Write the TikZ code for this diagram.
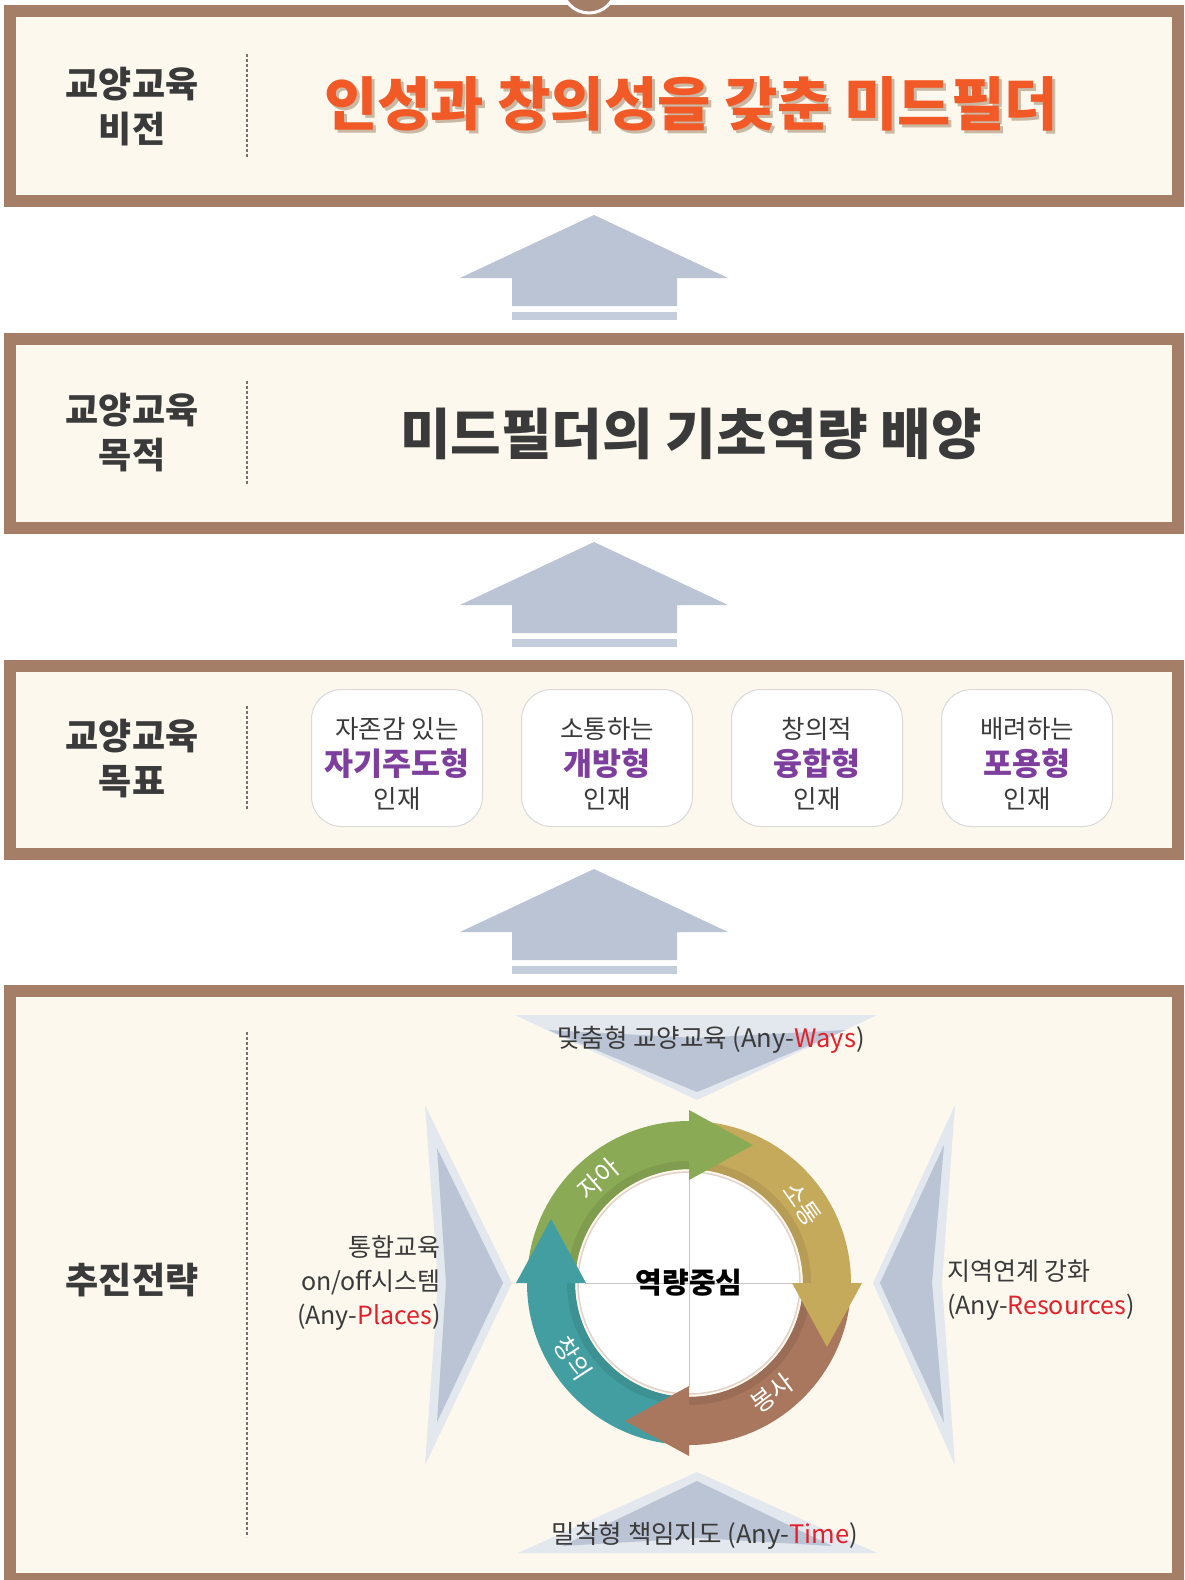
\documentclass[tikz,border=0pt]{standalone}
\usepackage{fontspec}
\setmainfont{Noto Sans CJK KR}
\usetikzlibrary{calc}

\definecolor{frame}{HTML}{A57E68}
\definecolor{paper}{HTML}{FCF8EE}
\definecolor{liftgray}{HTML}{BAC4D4}
\definecolor{haze}{HTML}{E3E7EE}
\definecolor{ink}{HTML}{3A3A3A}
\definecolor{vision}{HTML}{F15A26}
\definecolor{visshade}{HTML}{C9B8A4}
\definecolor{violet}{HTML}{7D3E9E}
\definecolor{anyred}{HTML}{E3202A}
\definecolor{cgreen}{HTML}{8BAA55}
\definecolor{cgold}{HTML}{C6AA5B}
\definecolor{cbrown}{HTML}{A9775D}
\definecolor{cteal}{HTML}{429EA0}
\definecolor{rim}{HTML}{E3D2C8}

\newcommand{\fs}[2]{\fontsize{#1}{#2}\selectfont} % size, skip

\begin{document}
\begin{tikzpicture}[x=1pt,y=-1pt,
 panel/.style={draw=frame,line width=12pt,fill=paper},
 sidelabel/.style={text=ink,font=\fs{36}{45}\bfseries,align=center,inner sep=0pt},
 divider/.style={draw=black!55,line width=2.5pt,dash pattern=on 3pt off 2pt},
 card/.style={draw=black!15,line width=1pt,fill=white,rounded corners=30pt,
   minimum width=171pt,minimum height=137pt},
 plain/.style={text=ink,inner sep=0pt},
 seg/.style={text=white,font=\fs{25}{30},inner sep=0pt},
 wedge/.style={fill=liftgray}
]

\useasboundingbox (0,0) rectangle (1184,1580);
\fill[white] (0,0) rectangle (1184,1580);

% frames
\path[panel] (10,11) rectangle (1178,201);
\path[panel] (10,339) rectangle (1178,528);
\path[panel] (10,666) rectangle (1178,854);
\path[panel] (10,991) rectangle (1178,1579);
\filldraw[fill=frame,draw=white,line width=3pt] (589,-14) circle (27);

% up arrows between frames
\foreach \dy in {0,327,654}{
 \begin{scope}[shift={(0,\dy)}]
  \fill[liftgray] (460,278) -- (594,215) -- (728,278) -- (677,278)
    -- (677,306) -- (512,306) -- (512,278) -- cycle;
  \fill[liftgray!85] (512,312) rectangle (677,320);
 \end{scope}
}

% left column
\node[sidelabel] (vislbl) at (132,107) {교양교육\\비전};
\node[sidelabel] (aimlbl) at (132,433) {교양교육\\목적};
\node[sidelabel] (goallbl) at (132,759) {교양교육\\목표};
\node[sidelabel] (planlbl) at (132,1280) {추진전략};
\draw[divider] (247,54) -- (247,158);
\draw[divider] (247,381) -- (247,485);
\draw[divider] (247,706) -- (247,810);
\draw[divider] (247,1032) -- (247,1537);

% vision and aim
\node[plain,text=visshade,font=\fs{58}{64}\bfseries] (visshadow) at (694,107)
  {인성과 창의성을 갖춘 미드필더};
\node[plain,text=vision,font=\fs{58}{64}\bfseries] (vistitle) at (691,104)
  {인성과 창의성을 갖춘 미드필더};
\node[plain,font=\fs{55}{60}\bfseries] (aimtitle) at (691,434)
  {미드필더의 기초역량 배양};

% talent cards
\newcommand{\talent}[4]{% name, x, top line, purple line
 \node[card] (#1) at (#2,758) {};
 \node[plain,font=\fs{25.5}{30}] (#1a) at ($(#1)+(0,-29)$) {#3};
 \node[plain,text=violet,font=\fs{31.5}{36}\bfseries] (#1b) at ($(#1)+(0,6)$) {#4};
 \node[plain,font=\fs{25.5}{30}] (#1c) at ($(#1)+(0,41)$) {인재};
}
\talent{self}{397}{자존감 있는}{자기주도형}
\talent{open}{607}{소통하는}{개방형}
\talent{fuse}{817}{창의적}{융합형}
\talent{care}{1027}{배려하는}{포용형}

% strategy wedges
\fill[haze] (515,1015) -- (877,1015) -- (697,1100) -- cycle;
\fill[wedge] (548,1030) -- (697,1092) -- (846,1030) -- (697,1038) -- cycle;
\fill[haze] (518,1553) -- (877,1553) -- (697,1472) -- cycle;
\fill[wedge] (562,1546) -- (697,1481) -- (832,1546) -- (697,1538) -- cycle;
\fill[haze] (425,1105) -- (512,1283) -- (425,1465) -- (438,1283) -- cycle;
\fill[wedge] (437,1148) -- (503,1283) -- (437,1422) -- (446,1283) -- cycle;
\fill[haze] (955,1105) -- (873,1283) -- (955,1465) -- (942,1283) -- cycle;
\fill[wedge] (944,1145) -- (880,1283) -- (944,1423) -- (932,1283) -- cycle;

\node[plain,font=\fs{25.5}{30}] (ways) at (711,1040)
  {맞춤형 교양교육 (Any-\textcolor{anyred}{Ways})};
\node[plain,font=\fs{25}{34},align=right,anchor=east] (places) at (441,1283)
  {통합교육\\on/off시스템\\(Any-\textcolor{anyred}{Places})};
\node[plain,font=\fs{25}{34},align=left,anchor=west] (resources) at (947,1290)
  {지역연계 강화\\(Any-\textcolor{anyred}{Resources})};
\node[plain,font=\fs{25.5}{30}] (time) at (705,1536)
  {밀착형 책임지도 (Any-\textcolor{anyred}{Time})};

% cycle
\begin{scope}[shift={(689,1283)},y=1pt]
 \def\ri{114} \def\rb{122} \def\ro{162}
 \def\rm{138} \def\rin{103} \def\rout{173} \def\hl{64}
 \foreach \b/\c in {90/cgreen,0/cgold,-90/cbrown,180/cteal}{
  \fill[\c] (\b+90:\ro) arc[start angle=\b+90,end angle=\b,radius=\ro]
    -- (\b:\ri) arc[start angle=\b,end angle=\b+90,radius=\ri] -- cycle;
  \fill[\c!92!black] (\b+90:\rb) arc[start angle=\b+90,end angle=\b,radius=\rb]
    -- (\b:\ri) arc[start angle=\b,end angle=\b+90,radius=\ri] -- cycle;
 }
 \filldraw[fill=white,draw=rim,line width=1.5pt] (0,0) circle (111);
 \draw[gray!45,line width=0.8pt] (-104,0) -- (104,0) (0,-104) -- (0,104);
 \foreach \b/\c in {90/cgreen,0/cgold,-90/cbrown,180/cteal}
  \fill[\c] (\b:\rin) -- (\b:\rout) -- ($(\b:\rm)+(\b-90:\hl)$) -- cycle;
 \node[seg,rotate=41] (selflbl) at (131:\rm) {자아};
 \node[seg,rotate=-55] (commlbl) at (35:\rm) {소통};
 \node[seg,rotate=37] (servlbl) at (-53:\rm) {봉사};
 \node[seg,rotate=-57] (crealbl) at (-147:\rm) {창의};
 \node[plain,text=black,font=\fs{29}{34}\bfseries] (core) at (0,0) {역량중심};
\end{scope}

\end{tikzpicture}
\end{document}
